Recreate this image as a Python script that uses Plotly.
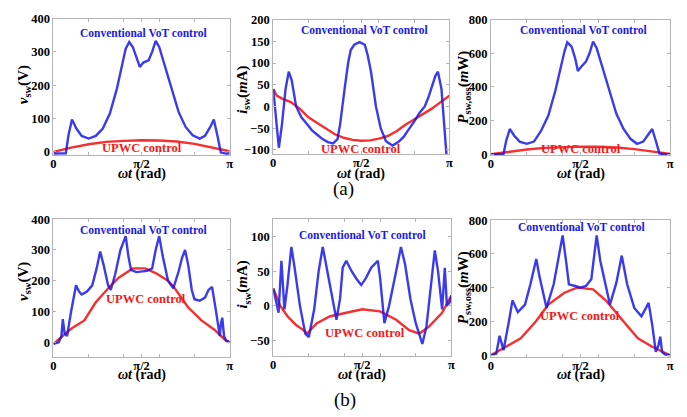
import math
import plotly.graph_objects as go

PI = math.pi
W, H = 687, 417

# ---- waveforms over half a line cycle (position given as fraction of pi) ----
# (a) row
va_t_conv = [0, 0.03, 0.07, 0.085, 0.105, 0.13, 0.16, 0.2, 0.24, 0.28, 0.32, 0.36, 0.39, 0.41, 0.43, 0.45,
             0.47, 0.49, 0.51, 0.54, 0.56, 0.58, 0.6, 0.63, 0.67, 0.71, 0.75, 0.79, 0.83, 0.86, 0.89, 0.91,
             0.93, 0.95, 0.98, 1.0]
va_conv = [-5, -5, -4, 50, 97, 70, 48, 40, 48, 70, 115, 190, 260, 310, 330, 315,
           285, 255, 268, 275, 300, 333, 315, 260, 190, 120, 75, 50, 40, 48, 75, 97,
           50, -2, -5, -5]
va_t_upwc = [0, 0.05, 0.1, 0.2, 0.3, 0.4, 0.5, 0.6, 0.7, 0.8, 0.9, 0.95, 1.0]
va_upwc = [0, 7, 13, 23, 30, 33, 35, 34, 31, 24, 14, 8, 2]

ia_t_conv = [0, 0.015, 0.032, 0.05, 0.07, 0.088, 0.105, 0.13, 0.16, 0.19, 0.22, 0.25, 0.28, 0.31, 0.34,
             0.365, 0.38, 0.405, 0.425, 0.44, 0.46, 0.49, 0.52, 0.535, 0.555, 0.583, 0.61, 0.64, 0.677,
             0.71, 0.74, 0.77, 0.8, 0.83, 0.86, 0.88, 0.9, 0.92, 0.935, 0.955, 0.97, 0.985]
ia_conv = [40, -20, -95, -40, 40, 80, 60, 0, -25, -40, -55, -65, -75, -82, -85,
           -75, -40, 40, 100, 130, 142, 148, 142, 120, 80, 0, -50, -80, -90,
           -82, -70, -52, -35, -15, 0, 20, 45, 70, 80, 40, -40, -120]
ia_t_upwc = [0, 0.02, 0.05, 0.1, 0.15, 0.2, 0.25, 0.3, 0.35, 0.4, 0.45, 0.5, 0.55, 0.6, 0.65, 0.7, 0.75,
             0.8, 0.85, 0.9, 0.95, 1.0]
ia_upwc = [40, 25, 18, 10, -5, -25, -38, -52, -64, -72, -77, -79, -78, -74, -68, -57, -42,
           -30, -18, -5, 10, 25]

pa_t_conv = [0, 0.03, 0.07, 0.085, 0.105, 0.13, 0.16, 0.2, 0.24, 0.28, 0.32, 0.36, 0.39, 0.41, 0.426,
             0.45, 0.47, 0.485, 0.5, 0.53, 0.55, 0.57, 0.59, 0.62, 0.66, 0.7, 0.74, 0.78, 0.815, 0.85,
             0.88, 0.9, 0.92, 0.94, 0.97, 1.0]
pa_conv = [0, 0, 2, 80, 150, 110, 75, 62, 75, 140, 230, 380, 520, 610, 665,
           640, 570, 495, 515, 550, 600, 670, 630, 520, 380, 240, 150, 90, 62, 75,
           120, 150, 80, 5, 0, 0]
pa_t_upwc = [0, 0.05, 0.1, 0.2, 0.3, 0.4, 0.5, 0.6, 0.7, 0.8, 0.9, 0.95, 1.0]
pa_upwc = [0, 8, 15, 28, 38, 43, 45, 44, 40, 30, 17, 9, 2]

# (b) row
vb_t_conv = [0, 0.03, 0.045, 0.053, 0.063, 0.077, 0.1, 0.128, 0.145, 0.16, 0.19, 0.22, 0.245, 0.265,
             0.285, 0.31, 0.325, 0.35, 0.38, 0.41, 0.425, 0.44, 0.47, 0.5, 0.53, 0.56, 0.58, 0.6, 0.62,
             0.65, 0.68, 0.71, 0.73, 0.747, 0.765, 0.785, 0.8, 0.83, 0.86, 0.88, 0.9, 0.92, 0.944,
             0.95, 0.958, 0.968, 0.98, 1.0]
vb_conv = [-5, 0, 20, 75, 30, 20, 100, 185, 165, 155, 165, 185, 240, 295,
           250, 185, 170, 220, 300, 345, 280, 235, 228, 230, 232, 240, 300, 345, 280,
           200, 175, 230, 275, 300, 250, 170, 140, 135, 145, 170, 180, 110, 20,
           60, 80, 20, 5, 0]
vb_t_upwc = [0, 0.05, 0.1, 0.175, 0.24, 0.315, 0.37, 0.45, 0.52, 0.58, 0.65, 0.68, 0.73, 0.765, 0.84,
             0.915, 0.97, 1.0]
vb_upwc = [-5, 20, 44, 71, 130, 178, 210, 240, 240, 225, 200, 182, 140, 113, 71,
           40, 10, 0]

ib_t_conv = [0, 0.015, 0.03, 0.046, 0.063, 0.08, 0.102, 0.12, 0.15, 0.18, 0.2, 0.23, 0.255, 0.278, 0.3,
             0.33, 0.355, 0.375, 0.39, 0.41, 0.44, 0.47, 0.494, 0.52, 0.55, 0.587, 0.6, 0.624, 0.65,
             0.69, 0.717, 0.74, 0.77, 0.8, 0.837, 0.86, 0.885, 0.907, 0.925, 0.948, 0.963, 0.975,
             0.99, 1.0]
ib_conv = [25, 5, -10, 65, -5, 30, 85, 55, 0, -40, -45, -5, 50, 85, 55,
           10, -20, 10, 55, 65, 50, 38, 30, 40, 55, 65, 40, -25, 0,
           50, 85, 60, 10, -25, -55, -30, 30, 80, 50, -5, 55, 0,
           5, 15]
ib_t_upwc = [0, 0.04, 0.08, 0.13, 0.17, 0.19, 0.245, 0.32, 0.41, 0.5, 0.6, 0.69, 0.763, 0.82, 0.874,
             0.948, 1.0]
ib_upwc = [25, 0, -15, -28, -35, -40, -25, -15, -10, -5, -8, -20, -35, -40, -30,
           -10, 15]

pb_t_conv = [0, 0.03, 0.048, 0.06, 0.07, 0.1, 0.12, 0.15, 0.19, 0.22, 0.253, 0.27, 0.31, 0.35, 0.38,
             0.4, 0.42, 0.435, 0.47, 0.5, 0.53, 0.56, 0.59, 0.61, 0.664, 0.7, 0.73, 0.76, 0.8, 0.84,
             0.88, 0.9, 0.92, 0.935, 0.945, 0.955, 0.97, 1.0]
pb_conv = [0, 10, 115, 60, 30, 200, 325, 255, 300, 420, 570, 470, 280, 420, 600,
           710, 550, 420, 410, 400, 410, 450, 710, 560, 300, 430, 590, 420, 280, 230,
           310, 180, 20, 60, 110, 20, 5, 0]
pb_t_upwc = [0, 0.08, 0.166, 0.25, 0.32, 0.41, 0.48, 0.57, 0.645, 0.74, 0.82, 0.9, 1.0]
pb_upwc = [0, 50, 100, 200, 300, 370, 400, 390, 320, 200, 100, 50, 0]

# ---- per-panel settings ----
x_tickvals = [0, PI / 2, PI]
x_ticktext = ["0", "π/2", "π"]

panels = [
    dict(conv=(va_t_conv, va_conv), upwc=(va_t_upwc, va_upwc), yr=[-10, 400], yt=[0, 100, 200, 300, 400],
         title="<b><i>v</i><sub>sw</sub>(V)</b>"),
    dict(conv=(ia_t_conv, ia_conv), upwc=(ia_t_upwc, ia_upwc), yr=[-110, 200],
         yt=[-100, -50, 0, 50, 100, 150, 200], title="<b><i>i</i><sub>sw</sub>(<i>m</i>A)</b>"),
    dict(conv=(pa_t_conv, pa_conv), upwc=(pa_t_upwc, pa_upwc), yr=[-6, 800], yt=[0, 200, 400, 600, 800],
         title="<b><i>P</i><sub>sw,oss</sub>(<i>m</i>W)</b>"),
    dict(conv=(vb_t_conv, vb_conv), upwc=(vb_t_upwc, vb_upwc), yr=[-47, 400], yt=[0, 100, 200, 300, 400],
         title="<b><i>v</i><sub>sw</sub>(V)</b>"),
    dict(conv=(ib_t_conv, ib_conv), upwc=(ib_t_upwc, ib_upwc), yr=[-72, 125], yt=[-50, 0, 50, 100],
         title="<b><i>i</i><sub>sw</sub>(<i>m</i>A)</b>"),
    dict(conv=(pb_t_conv, pb_conv), upwc=(pb_t_upwc, pb_upwc), yr=[-9, 800], yt=[0, 200, 400, 600, 800],
         title="<b><i>P</i><sub>sw,oss</sub>(<i>m</i>W)</b>"),
]

# plot boxes in pixels: (left, right, top, bottom)
boxes = [
    (51, 229, 12, 153), (273, 451, 13, 152), (493, 674, 13, 153),
    (51, 229, 219, 361), (273, 453, 219, 360), (493, 674, 220, 361),
]
# label anchors in pixels
ytitle_pos = [(21, 80), (243, 86), (466, 83), (21, 283), (243, 287), (466, 290)]
xtitle_y = [172, 172, 172, 380, 380, 380]
conv_label = [(142, 27), (365, 24), (586, 24), (142, 230), (363, 235), (584, 227)]
upwc_label = [(140, 146), (362, 147), (584, 147), (144, 301), (366, 337), (583, 319)]

BLUE = "rgb(25,25,235)"
RED = "rgb(245,25,25)"
FONT = "Liberation Serif"
GRID = "#b4b4b4"


def px(x):
    return x / W


def py(y):
    return 1 - y / H


def label(x, y, text, size, color="black", angle=0):
    return dict(x=px(x), y=py(y), xref="paper", yref="paper", text=text, showarrow=False,
                xanchor="center", yanchor="middle", textangle=angle,
                font=dict(family=FONT, size=size, color=color))


fig = go.Figure()
annotations = []
layout = {}

for i, (p, box) in enumerate(zip(panels, boxes)):
    n = "" if i == 0 else str(i + 1)
    xa, ya = "x" + n, "y" + n
    ct, cv = p["conv"]
    ut, uv = p["upwc"]
    fig.add_trace(go.Scatter(x=[t * PI for t in ut], y=uv, mode="lines", xaxis=xa, yaxis=ya,
                             line=dict(color=RED, width=2.4), opacity=0.9, showlegend=False))
    fig.add_trace(go.Scatter(x=[t * PI for t in ct], y=cv, mode="lines", xaxis=xa, yaxis=ya,
                             line=dict(color=BLUE, width=2.4), opacity=0.85, showlegend=False))
    l, r, t, b = box
    common = dict(showline=True, linecolor=GRID, linewidth=1, mirror="ticks", ticks="inside",
                  ticklen=3, tickcolor=GRID, showgrid=False, zeroline=False,
                  tickfont=dict(family=FONT, size=12.5, color="black", weight="bold"))
    layout["xaxis" + n] = dict(domain=[px(l), px(r)], anchor=ya, range=[0, PI],
                               tickvals=x_tickvals, ticktext=x_ticktext, ticklabelstandoff=-3,
                               minor=dict(tickvals=[0.2 * PI, 0.4 * PI, 0.6 * PI, 0.8 * PI],
                                          ticks="inside", ticklen=3, tickcolor=GRID),
                               **common)
    layout["yaxis" + n] = dict(domain=[py(b), py(t)], anchor=xa, range=p["yr"], tickvals=p["yt"],
                               ticklabelstandoff=0, **common)
    tx, ty = ytitle_pos[i]
    annotations.append(label(tx, ty, p["title"], 15, angle=-90))
    annotations.append(label((l + r) / 2, xtitle_y[i], "<b><i>ωt</i> (rad)</b>", 14))
    cx, cy = conv_label[i]
    annotations.append(label(cx, cy, "<b>Conventional VoT control</b>", 11.5, BLUE))
    ux, uy = upwc_label[i]
    annotations.append(label(ux, uy, "<b>UPWC control</b>", 12.5, RED))

annotations.append(label(344, 188, "(a)", 19))
annotations.append(label(346, 406, "(b)", 19))

fig.update_layout(width=W, height=H, margin=dict(l=0, r=0, t=0, b=0),
                  paper_bgcolor="white", plot_bgcolor="white",
                  annotations=annotations, **layout)

fig.write_html("out.html")
